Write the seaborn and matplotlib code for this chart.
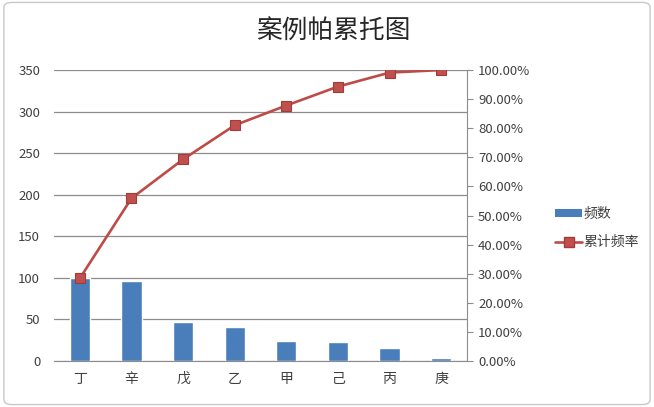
import numpy as np
import pandas as pd
import matplotlib
matplotlib.use("Agg")
import matplotlib.pyplot as plt
import seaborn as sns
from matplotlib.patches import Patch, FancyBboxPatch
from matplotlib.lines import Line2D
from matplotlib.ticker import FuncFormatter, MultipleLocator

categories = ['丁', '辛', '戊', '乙', '甲', '己', '丙', '庚']
counts = [100, 96, 47, 41, 24, 23, 16, 4]
cum_pct = [0.284, 0.559, 0.693, 0.810, 0.878, 0.943, 0.991, 1.000]

df = pd.DataFrame({'cat': categories, 'count': counts, 'cum': cum_pct})

sns.set_style('white')
plt.rcParams['font.family'] = ['Noto Sans CJK SC', 'DejaVu Sans']

bar_color = '#4A7EBB'
line_color = '#BE4B48'
text_color = '#404040'
grid_color = '#8C8C8C'

fig = plt.figure(figsize=(6.54, 4.07), dpi=100)
ax = fig.add_axes([0.0826, 0.113, 0.6314, 0.715])

# outer chart border
border = FancyBboxPatch((0.006, 0.006), 0.988, 0.988, boxstyle='round,pad=0,rounding_size=0.012',
                        transform=fig.transFigure, fill=False, edgecolor='#C8C8C8', linewidth=1.0)
fig.patches.append(border)

sns.barplot(data=df, x='cat', y='count', color=bar_color, width=0.39,
            saturation=1, ax=ax, zorder=2)
ax.set_xlim(-0.5, 7.5)
ax.set_ylim(0, 350)
ax.yaxis.set_major_locator(MultipleLocator(50))
ax.grid(axis='y', color=grid_color, linewidth=0.9, zorder=0)
ax.set_axisbelow(True)
ax.set_xlabel('')
ax.set_ylabel('')
for s in ['top', 'left', 'right']:
    ax.spines[s].set_visible(False)
ax.spines['bottom'].set_color(grid_color)
ax.tick_params(axis='y', labelsize=9.5, labelcolor=text_color, length=0, pad=10)
ax.tick_params(axis='x', labelsize=10, labelcolor=text_color, length=0, pad=8)

ax2 = ax.twinx()
sns.lineplot(data=df, x='cat', y='cum', ax=ax2, color=line_color, linewidth=1.9,
             marker='s', markersize=7, markerfacecolor='#C0504D',
             markeredgecolor='#A03C3A', markeredgewidth=0.8, zorder=3)
ax2.set_ylim(0, 1)
ax2.set_xlim(-0.5, 7.5)
ax2.yaxis.set_major_locator(MultipleLocator(0.1))
ax2.yaxis.set_major_formatter(FuncFormatter(lambda v, p: f'{v*100:.2f}%'))
ax2.set_ylabel('')
for s in ['top', 'left', 'bottom']:
    ax2.spines[s].set_visible(False)
ax2.spines['right'].set_color(grid_color)
ax2.tick_params(axis='y', labelsize=9.5, labelcolor=text_color, color=grid_color,
                length=4, width=0.8, direction='out', pad=4)

fig.text(0.509, 0.922, '案例帕累托图', ha='center', va='center',
         fontsize=18.5, fontweight='medium', color='#262626')

handles = [Patch(facecolor=bar_color, edgecolor='none'),
           Line2D([0], [0], color=line_color, linewidth=1.9, marker='s', markersize=7,
                  markerfacecolor='#C0504D', markeredgecolor='#A03C3A')]
fig.legend(handles, ['频数', '累计频率'], loc='center left',
           bbox_to_anchor=(0.83, 0.44), frameon=False, fontsize=10,
           labelcolor=text_color, handlelength=1.9, handleheight=0.55,
           handletextpad=0.15, labelspacing=1.05)

fig.savefig('out.png', dpi=100)
